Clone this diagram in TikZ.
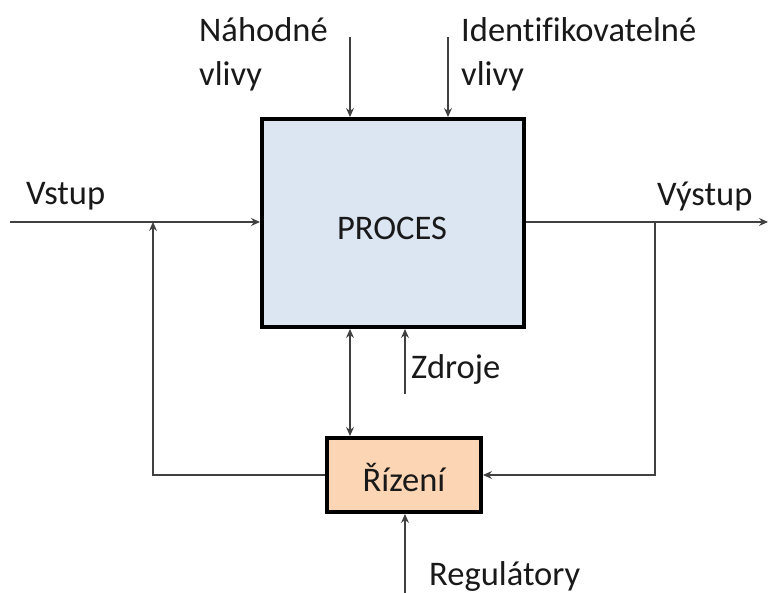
\documentclass[tikz,border=0pt]{standalone}
\usepackage{fontspec}
\setmainfont[Ligatures=CommonOff]{Carlito}
\usetikzlibrary{arrows.meta,calc}
\begin{document}
\begin{tikzpicture}[x=1pt,y=-1pt,
  box/.style={draw=black,line width=4pt,rectangle,inner sep=0pt},
  lbl/.style={inner sep=0pt,font=\fontsize{34.5}{44}\selectfont,text=black!90,align=left},
  conn/.style={draw=black!75,line width=1.1pt},
  arr/.style={conn,-{Stealth[length=9pt,width=8pt,inset=3pt]}},
  darr/.style={conn,{Stealth[length=9pt,width=8pt,inset=3pt]}-{Stealth[length=9pt,width=8pt,inset=3pt]}}]
  \useasboundingbox (0,0) rectangle (769,593);

  % blocks
  \node[box,fill={rgb,255:red,220;green,230;blue,242},minimum width=262pt,minimum height=208pt] (proc) at (393,223) {};
  \node[lbl] (proct) at (392,228) {PROCES};
  \node[box,fill={rgb,255:red,252;green,213;blue,181},minimum width=154pt,minimum height=74pt] (riz) at (404,475) {};
  \node[lbl] (rizt) at (404,478) {Řízení};

  % labels
  \node[lbl,anchor=west] (vstup) at (26,196) {Vstup};
  \node[lbl,anchor=west] (vystup) at (657,196) {Výstup};
  \node[lbl,anchor=west] (nah) at (199,54) {Náhodné\\vlivy};
  \node[lbl,anchor=west] (ide) at (461,54) {Identifikovatelné\\vlivy};
  \node[lbl,anchor=west] (zdr) at (411,369) {Zdroje};
  \node[lbl,anchor=west] (reg) at (429,576) {Regulátory};

  % free ends of the connectors
  \coordinate (vin) at (10,222);
  \coordinate (vout) at (768,222);
  \coordinate (fl) at (153,222);
  \coordinate (fr) at (655,222);
  \coordinate (n1) at (350,37);
  \coordinate (n2) at (448,37);
  \coordinate (d1) at (350,0);
  \coordinate (z) at (405,394);
  \coordinate (r) at (405,593);

  % signal flow
  \draw[arr] (vin) -- (vin -| proc.west);
  \draw[arr] (vin -| proc.east) -- (vout);
  \draw[arr] (riz.west) -| (fl);
  \draw[arr] (fr) |- (riz.east);
  \draw[arr] (n1) -- (n1 |- proc.north);
  \draw[arr] (n2) -- (n2 |- proc.north);
  \draw[darr] (d1 |- proc.south) -- (d1 |- riz.north);
  \draw[arr] (z) -- (z |- proc.south);
  \draw[arr] (r) -- (r |- riz.south);
\end{tikzpicture}
\end{document}
